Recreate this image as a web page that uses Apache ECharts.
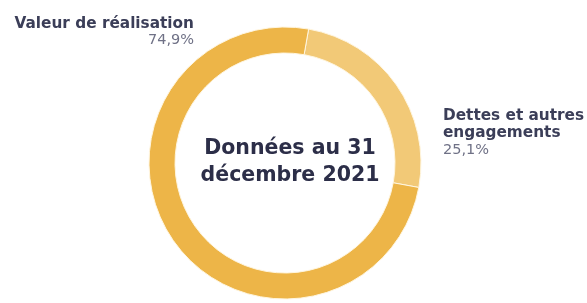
<!DOCTYPE html>
<html><head><meta charset="utf-8">
<script src="https://cdn.jsdelivr.net/npm/echarts@6/dist/echarts.min.js"></script>
<style>html,body{margin:0;padding:0;background:#fff}#c{width:587px;height:303px}</style>
</head><body><div id="c"></div>
<script>
const categories = ["Dettes et autres\nengagements", "Valeur de réalisation"];
const values = [25.1, 74.9];
const valueLabels = ["25,1%", "74,9%"];
const centerTitle = "Données au 31\ndécembre 2021";

const colors = ["#F2C977", "#EDB548"];
const chart = echarts.init(document.getElementById('c'));
chart.setOption({
  backgroundColor: '#fff',
  animation: false,
  title: {
    text: centerTitle, left: 285, top: 130, textAlign: 'center',
    textStyle: { fontFamily: 'DejaVu Sans', fontWeight: 'bold', fontSize: 20.5, lineHeight: 27, color: '#2C2E48' }
  },
  series: [{
    type: 'pie',
    center: [285, 163],
    radius: [110, 136],
    startAngle: 80,
    clockwise: true,
    data: categories.map((n, i) => ({ name: n, value: values[i], itemStyle: { color: colors[i] } })),
    itemStyle: { borderColor: '#fff6e0', borderWidth: 1 },
    label: {
      show: true, position: 'outside', overflow: 'none', width: 250,
      formatter: p => '{n|' + p.name + '}\n{v|' + valueLabels[p.dataIndex] + '}',
      rich: {
        n: { fontFamily: 'DejaVu Sans', fontWeight: 'bold', fontSize: 15.3, lineHeight: 17, color: '#3B3E58' },
        v: { fontFamily: 'DejaVu Sans', fontSize: 14.5, lineHeight: 16, color: '#6F7186' }
      }
    },
    labelLine: { show: false },
    labelLayout: p => p.dataIndex === 0
      ? { x: 443, y: 133, align: 'left', verticalAlign: 'middle' }
      : { x: 194, y: 32, align: 'right', verticalAlign: 'middle' }
  }]
});
</script></body></html>
